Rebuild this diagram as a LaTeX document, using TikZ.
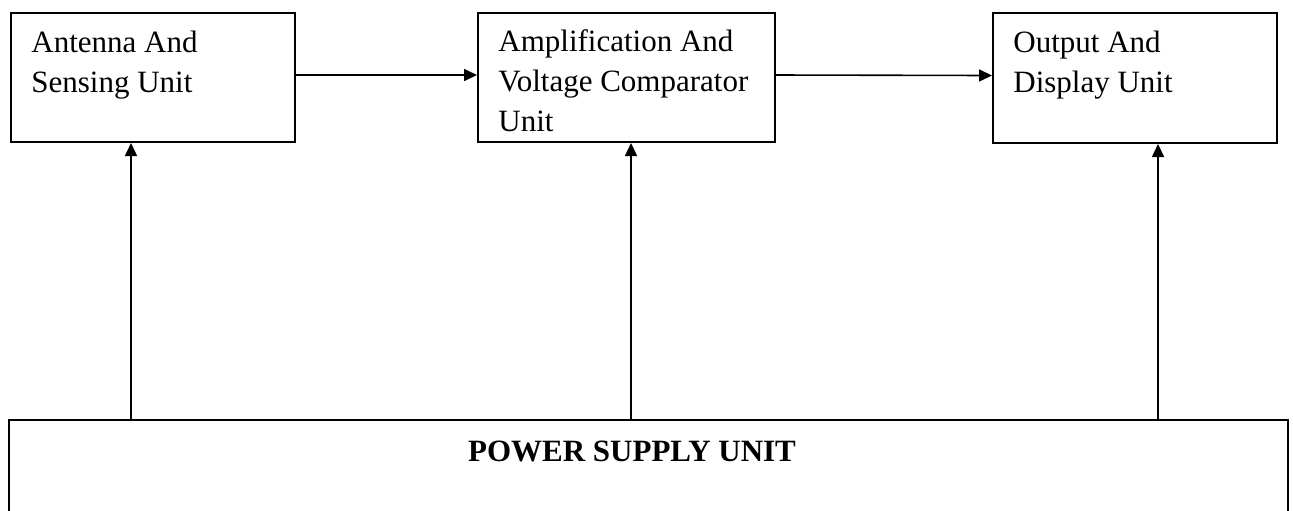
\documentclass[tikz,border=0pt]{standalone}
\usepackage{fontspec}
\setmainfont{Liberation Serif}
\usetikzlibrary{arrows.meta}
\usetikzlibrary{positioning}

\tikzset{
  unitbox/.style={draw, line width=1pt, anchor=north west, inner sep=0pt},
  unittext/.style={anchor=base west, align=left, inner sep=0pt,
    font=\fontsize{15.5}{20}\selectfont},
  flow/.style={line width=0.8pt, -{Triangle[length=6.5pt,width=6pt]}}
}

\begin{document}
\begin{tikzpicture}[x=0.5pt,y=-0.5pt]
\clip (0,0) rectangle (1293,510);
%units
\node[unitbox, minimum width=142pt, minimum height=64.5pt] (ant) at (10,12) {};
\node[unitbox, minimum width=148.5pt, minimum height=64.5pt] (amp) at (477,12) {};
\node[unitbox, minimum width=142pt, minimum height=65pt] (out) at (992,12) {};
\node[unitbox, minimum width=639.5pt, minimum height=60pt] (psu) at (8,419) {};
%texts (anchored at the last baseline)
\node[unittext] (antlbl) at (31,92) {Antenna And\\Sensing Unit};
\node[unittext] (amplbl) at (498,131) {Amplification And\\Voltage Comparator\\Unit};
\node[unittext] (outlbl) at (1013,92) {Output And\\Display Unit};
\node[font=\fontsize{15.5}{20}\selectfont\bfseries, anchor=base, inner sep=0pt] (psulbl) at (632,461) {POWER SUPPLY UNIT};
%signal
\draw[flow] ([yshift=1.25pt]ant.east) -- ([yshift=1.25pt]amp.west);
\draw[flow] ([yshift=1.25pt]amp.east) -- ([yshift=1.25pt]out.west);
%supply
\draw[flow] ([xshift=-11pt]ant.south |- psu.north) -- ([xshift=-11pt]ant.south);
\draw[flow] ([xshift=2.25pt]amp.south |- psu.north) -- ([xshift=2.25pt]amp.south);
\draw[flow] ([xshift=11.5pt]out.south |- psu.north) -- ([xshift=11.5pt]out.south);
\end{tikzpicture}
\end{document}
